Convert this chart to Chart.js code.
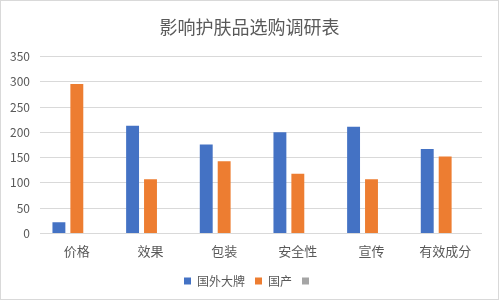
<!DOCTYPE html>
<html>
<head>
<meta charset="utf-8">
<script src="https://cdn.jsdelivr.net/npm/chart.js@4/dist/chart.umd.min.js"></script>
<style>
html, body { margin: 0; padding: 0; background: #fff; }
#wrap { position: relative; width: 497px; height: 298px; border: 1px solid #d9d9d9; }
</style>
</head>
<body>
<div id="wrap"><canvas id="chart"></canvas></div>
<script>
// Chart data
const categories = ['价格', '效果', '包装', '安全性', '宣传', '有效成分'];
const foreignBrand = [22, 213, 176, 200, 211, 167];
const domestic = [296, 107, 143, 118, 107, 152];
const thirdSeries = [null, null, null, null, null, null];
const yTicks = [0, 50, 100, 150, 200, 250, 300, 350];

const fontFamily = '"Noto Sans CJK SC", "Noto Sans", sans-serif';
const textColor = '#595959';

const ctx = document.getElementById('chart').getContext('2d');
new Chart(ctx, {
    type: 'bar',
    data: {
        labels: categories,
        datasets: [
            { label: '国外大牌', data: foreignBrand, backgroundColor: '#4472c4' },
            { label: '国产', data: domestic, backgroundColor: '#ed7d31' },
            { label: '', data: thirdSeries, backgroundColor: '#a5a5a5' }
        ]
    },
    options: {
        responsive: true,
        maintainAspectRatio: false,
        animation: false,
        datasets: {
            bar: { categoryPercentage: 0.73, barPercentage: 0.72 }
        },
        layout: { padding: { left: 0, right: 0, top: 6, bottom: 2 } },
        plugins: {
            title: {
                display: true,
                text: '影响护肤品选购调研表',
                color: textColor,
                font: { family: fontFamily, size: 18, weight: 'normal' },
                padding: { top: 9, bottom: 19 }
            },
            legend: {
                position: 'bottom',
                labels: {
                    color: textColor,
                    font: { family: fontFamily, size: 12 },
                    boxWidth: 7,
                    boxHeight: 7,
                    padding: 10
                }
            },
            tooltip: { enabled: false }
        },
        scales: {
            x: {
                grid: { display: false },
                border: { display: false },
                afterFit: function(scale) { scale.height += 4; },
                ticks: { color: textColor, font: { family: fontFamily, size: 13 }, padding: 2 }
            },
            y: {
                min: 0,
                max: 350,
                afterBuildTicks: function(scale) {
                    scale.ticks = yTicks.map(v => ({ value: v }));
                },
                afterFit: function(scale) { scale.width = 39; },
                grid: { color: '#d9d9d9', drawTicks: false },
                border: { display: false },
                ticks: { color: textColor, font: { family: fontFamily, size: 12 }, padding: 10 }
            },
            // empty right-side spacer so the legend stays centred on the canvas
            yRight: {
                position: 'right',
                afterFit: function(scale) { scale.width = 16; },
                grid: { display: false },
                border: { display: false },
                ticks: { display: false }
            }
        }
    }
});
</script>
</body>
</html>
